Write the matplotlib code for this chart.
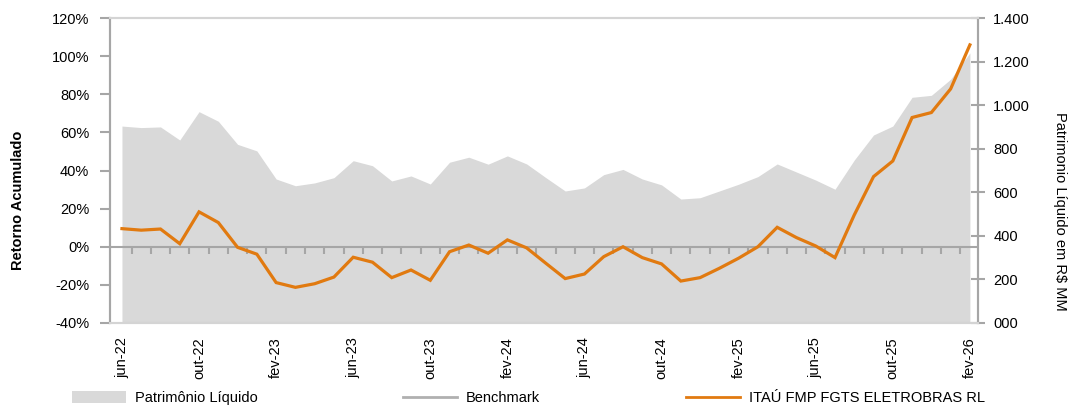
import matplotlib
matplotlib.use("Agg")
import matplotlib.pyplot as plt
from matplotlib.patches import Patch
from matplotlib.lines import Line2D
import numpy as np

plt.rcParams['font.family'] = ['Liberation Sans', 'DejaVu Sans']

# meses jun-22 .. fev-26
meses = ["jun-22", "jul-22", "ago-22", "set-22", "out-22", "nov-22", "dez-22",
         "jan-23", "fev-23", "mar-23", "abr-23", "mai-23", "jun-23", "jul-23",
         "ago-23", "set-23", "out-23", "nov-23", "dez-23", "jan-24", "fev-24",
         "mar-24", "abr-24", "mai-24", "jun-24", "jul-24", "ago-24", "set-24",
         "out-24", "nov-24", "dez-24", "jan-25", "fev-25", "mar-25", "abr-25",
         "mai-25", "jun-25", "jul-25", "ago-25", "set-25", "out-25", "nov-25",
         "dez-25", "jan-26", "fev-26"]

# retorno acumulado do fundo (%)
retorno = [9.5, 8.7, 9.3, 1.6, 18.3, 12.7, -0.3, -3.9, -18.8, -21.3, -19.4, -15.9,
           -5.5, -8.1, -16.2, -12.2, -17.6, -2.6, 0.9, -3.4, 3.6, -0.6, -8.7, -16.7,
           -14.3, -5.2, 0.0, -5.7, -9.0, -18.0, -16.2, -11.3, -6.0, 0.0, 10.2, 4.8,
           0.4, -5.7, 16.7, 36.8, 45.0, 67.8, 70.4, 82.8, 105.9]

# patrimonio liquido (R$ MM)
pl = [904, 897, 900, 840, 970, 926, 820, 790, 661, 630, 643, 667, 745, 722, 652,
      675, 638, 738, 761, 729, 767, 730, 667, 606, 620, 681, 705, 661, 634, 569,
      575, 606, 637, 672, 730, 693, 656, 614, 748, 863, 904, 1036, 1045, 1119, 1240]

benchmark = []  # sem dados no grafico

cinza_area = '#d9d9d9'
laranja = '#e17a10'
cinza_eixo = '#a6a6a6'

x = np.arange(len(meses))

fig = plt.figure(figsize=(10.68, 4.05), dpi=100)
ax = fig.add_axes([110/1068, 1-323/405, (978-110)/1068, (323-18)/405])
ax2 = ax.twinx()

ax2.fill_between(x, pl, 0, color=cinza_area, lw=0)
ax2.set_ylim(0, 1400)
ax2.set_yticks(range(0, 1401, 200))
ax2.set_yticklabels(["000", "200", "400", "600", "800", "1.000", "1.200", "1.400"])

ax.set_zorder(ax2.get_zorder() + 1)
ax.patch.set_visible(False)

ax.axhline(0, color=cinza_eixo, lw=1.5, zorder=2)
ax.vlines(x[:-1] + 0.5, -3.6, 0, color=cinza_eixo, lw=1.5, zorder=2)
ax.plot(x, retorno, color=laranja, lw=2.3, zorder=3, solid_joinstyle='miter')
ax.plot(x[:len(benchmark)], benchmark, color='#b0b0b0', lw=1.5)

ax.set_xlim(-0.62, len(meses) - 1 + 0.42)
ax.set_ylim(-40, 120)
ax.set_yticks(range(-40, 121, 20))
ax.set_yticklabels([f"{v}%" for v in range(-40, 121, 20)])
ax.set_xticks(x[::4])
ax.set_xticklabels(meses[::4], rotation=90)
ax.tick_params(axis='x', length=0, pad=10, labelsize=10.5)
ax.tick_params(axis='y', length=7, width=1.5, color=cinza_eixo, labelsize=10.5, pad=8)
ax2.tick_params(axis='y', direction='inout', length=10, width=1.5, color=cinza_eixo,
                labelsize=10.5, pad=6)

for a in (ax, ax2):
    a.spines['left'].set_color(cinza_eixo)
    a.spines['left'].set_linewidth(1.5)
    a.spines['right'].set_color(cinza_eixo)
    a.spines['right'].set_linewidth(1.5)
    a.spines['top'].set_color('#d4d4d4')
    a.spines['top'].set_linewidth(1.5)
    a.spines['bottom'].set_color('#d4d4d4')
    a.spines['bottom'].set_linewidth(1.5)

fig.text(18/1068, 1-200/405, "Retorno Acumulado", rotation=90, ha='center', va='center',
         fontsize=10.5, fontweight='bold')
fig.text(1060/1068, 1-211/405, "Patrimonio Líquido em R$ MM", rotation=270, ha='center',
         va='center', fontsize=10.5)

handles = [Patch(facecolor=cinza_area, edgecolor='none'),
           Line2D([], [], color='#b0b0b0', lw=2),
           Line2D([], [], color=laranja, lw=2)]
labels = ["Patrimônio Líquido", "Benchmark", "ITAÚ FMP FGTS ELETROBRAS RL"]
fig.legend(handles, labels, loc='center left', bbox_to_anchor=(72/1068, 1-398/405),
           ncol=3, frameon=False, handlelength=3.7, handleheight=0.9, handletextpad=0.6,
           columnspacing=10.0, prop={'family': ['Liberation Sans Narrow', 'Liberation Sans'],
                                     'size': 10.5}, borderaxespad=0, borderpad=0)

fig.savefig("out.png", dpi=100)
